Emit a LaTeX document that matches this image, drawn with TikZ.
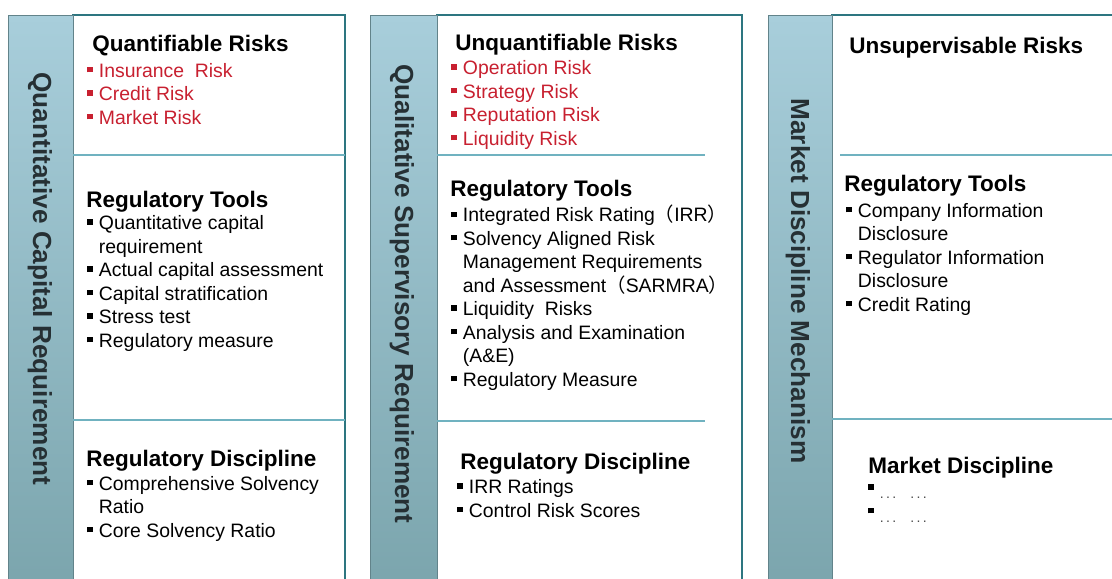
\documentclass[tikz,border=0pt]{standalone}
\usepackage{fontspec}
\setmainfont{Liberation Sans}
\newfontfamily\cjk{Noto Sans CJK SC}
\definecolor{barTop}{RGB}{168,206,219}
\definecolor{barBottom}{RGB}{122,164,172}
\definecolor{barText}{RGB}{38,48,52}
\definecolor{frameTeal}{RGB}{45,118,128}
\definecolor{ruleTeal}{RGB}{112,178,192}
\definecolor{riskRed}{RGB}{200,32,48}
% square bullet and matching indent for wrapped lines
\newcommand{\bl}{\rule[0.24em]{0.28em}{0.28em}\hspace{0.32em}}
\newcommand{\ind}{\hphantom{\bl}}
\newcommand{\etc}{{\fontsize{10}{10}\selectfont\color{black!70}\raisebox{-0.3em}{.\,.\,.\quad.\,.\,.}}}

\begin{document}
\begin{tikzpicture}[
    x=0.025cm, y=-0.025cm,
    bar/.style={top color=barTop, bottom color=barBottom, draw=barBottom!80!black, line width=0.4pt},
    panel/.style={draw=frameTeal, line width=1.1pt, fill=white},
    divider/.style={draw=ruleTeal, line width=1.1pt},
    barlabel/.style={rotate=-90, text=barText, font=\fontsize{18.6}{20}\selectfont\bfseries},
    head/.style={anchor=base west, inner sep=0pt, font=\fontsize{16}{19}\selectfont\bfseries},
    % lists are placed by the baseline of their last line
    items/.style={anchor=base west, inner sep=0pt, align=left, font=\fontsize{13.8}{16.7}\selectfont},
    risks/.style={items, text=riskRed}
]
\clip (0,0) rectangle (1112,579);

% quantitative capital requirement
\draw[panel] (73,15) rectangle (345,600);
\draw[bar] (8,15) rectangle (73,600);
\node[barlabel] (quantlabel) at (40,279) {Quantitative Capital Requirement};
\node[head] (quanthead) at (92,51) {Quantifiable Risks};
\node[risks] (quantrisks) at (87,124) {\bl Insurance\ \ Risk\\\bl Credit Risk\\\bl Market Risk};
\draw[divider] (73,155) -- (345,155);
\node[head] (quanttoolhead) at (86,207) {Regulatory Tools};
\node[items] (quanttools) at (87,347) {\bl Quantitative capital\\\ind requirement\\\bl Actual capital assessment\\\bl Capital stratification\\\bl Stress test\\\bl Regulatory measure};
\draw[divider] (73,420) -- (345,420);
\node[head] (quantdischead) at (86,466) {Regulatory Discipline};
\node[items] (quantdisc) at (87,537) {\bl Comprehensive Solvency\\\ind Ratio\\\bl Core Solvency Ratio};

% qualitative supervisory requirement
\draw[panel] (437,15) rectangle (742,600);
\draw[bar] (370,15) rectangle (437,600);
\node[barlabel] (quallabel) at (402,294) {Qualitative Supervisory Requirement};
\node[head] (qualhead) at (455,50) {Unquantifiable Risks};
\node[risks] (qualrisks) at (451,145) {\bl Operation Risk\\\bl Strategy Risk\\\bl Reputation Risk\\\bl Liquidity Risk};
\draw[divider] (437,155) -- (705,155);
\node[head] (qualtoolhead) at (450,196) {Regulatory Tools};
\node[items] (qualtools) at (451,386) {\bl Integrated Risk Rating{\cjk（}IRR{\cjk）}\\\bl Solvency Aligned Risk\\\ind Management Requirements\\\ind and Assessment{\cjk（}SARMRA{\cjk）}\\\bl Liquidity\ \ Risks\\\bl Analysis and Examination\\\ind (A\&E)\\\bl Regulatory Measure};
\draw[divider] (437,421) -- (705,421);
\node[head] (qualdischead) at (460,469) {Regulatory Discipline};
\node[items] (qualdisc) at (457,517) {\bl IRR Ratings\\\bl Control Risk Scores};

% market discipline mechanism
\draw[panel] (832,15) rectangle (1130,600);
\draw[bar] (768,15) rectangle (832,600);
\node[barlabel] (marketlabel) at (798,281) {Market Discipline Mechanism};
\node[head] (markethead) at (849,53) {Unsupervisable Risks};
\draw[divider] (840,155) -- (1112,155);
\node[head] (markettoolhead) at (844,191) {Regulatory Tools};
\node[items] (markettools) at (846,311) {\bl Company Information\\\ind Disclosure\\\bl Regulator Information\\\ind Disclosure\\\bl Credit Rating};
\draw[divider] (832,419) -- (1112,419);
\node[head] (marketdischead) at (868,473) {Market Discipline};
\node[items] (marketdisc) at (868,518) {\bl\etc\\\bl\etc};
\end{tikzpicture}
\end{document}
